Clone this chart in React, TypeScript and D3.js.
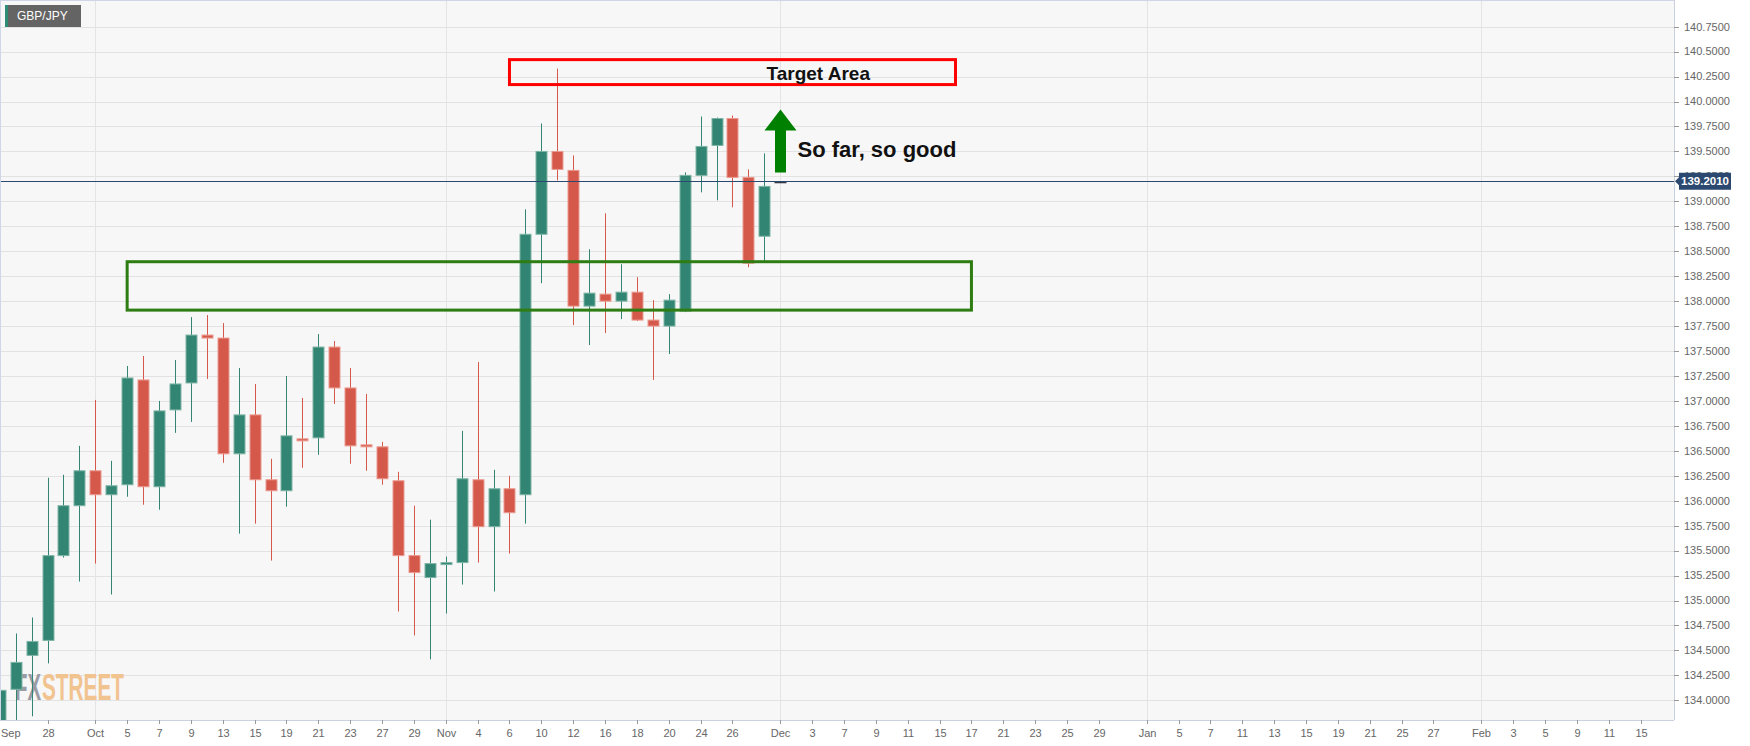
import React from "react";
import * as d3 from "d3";

const WIDTH = 1750;
const HEIGHT = 746;
const PLOT_RIGHT = 1674;
const PLOT_BOTTOM = 720;
const FONT = "'Liberation Sans', Arial, sans-serif";

// ---- daily GBP/JPY candles ----
const dates = [
  "2020-09-23", "2020-09-24", "2020-09-25", "2020-09-28", "2020-09-29", "2020-09-30",
  "2020-10-01", "2020-10-02", "2020-10-05", "2020-10-06", "2020-10-07", "2020-10-08",
  "2020-10-09", "2020-10-12", "2020-10-13", "2020-10-14", "2020-10-15", "2020-10-16",
  "2020-10-19", "2020-10-20", "2020-10-21", "2020-10-22", "2020-10-23", "2020-10-26",
  "2020-10-27", "2020-10-28", "2020-10-29", "2020-10-30", "2020-11-02", "2020-11-03",
  "2020-11-04", "2020-11-05", "2020-11-06", "2020-11-09", "2020-11-10", "2020-11-11",
  "2020-11-12", "2020-11-13", "2020-11-16", "2020-11-17", "2020-11-18", "2020-11-19",
  "2020-11-20", "2020-11-23", "2020-11-24", "2020-11-25", "2020-11-26", "2020-11-27",
  "2020-11-30",
];
const opens = [
  133.7, 134.11, 134.45, 134.6, 135.45, 135.95,
  136.3, 136.06, 136.16, 137.21, 136.14, 136.91,
  137.18, 137.66, 137.63, 136.47, 136.86, 136.21,
  136.1, 136.62, 136.63, 137.54, 137.13, 136.56,
  136.54, 136.2, 135.45, 135.23, 135.36, 135.38,
  136.21, 135.74, 136.12, 136.06, 138.67, 139.5,
  139.31, 137.95, 138.07, 138.0, 138.09, 137.81,
  137.75, 137.9, 139.26, 139.56, 139.83, 139.24,
  138.65,
];
const highs = [
  134.62, 134.67, 134.83, 136.23, 136.26, 136.55,
  137.01, 136.4, 137.35, 137.45, 137.0, 137.41,
  137.84, 137.86, 137.78, 137.33, 137.17, 136.42,
  137.25, 137.03, 137.67, 137.6, 137.33, 137.07,
  136.59, 136.29, 135.95, 135.81, 135.44, 136.7,
  137.39, 136.31, 136.25, 138.92, 139.78, 140.33,
  139.46, 138.52, 138.88, 138.37, 138.24, 138.01,
  138.07, 139.29, 139.85, 139.84, 139.86, 139.32,
  139.48,
];
const lows = [
  133.55, 133.79, 133.84, 134.37, 135.43, 135.19,
  135.37, 135.06, 136.04, 135.96, 135.91, 136.68,
  136.79, 137.22, 136.38, 135.67, 135.77, 135.4,
  135.94, 136.33, 136.46, 136.97, 136.37, 136.3,
  136.16, 134.89, 134.65, 134.41, 134.87, 135.16,
  135.38, 135.09, 135.47, 135.77, 138.18, 139.21,
  137.76, 137.56, 137.68, 137.82, 137.8, 137.21,
  137.47, 137.89, 139.09, 139.01, 138.94, 138.34,
  138.39,
];
const closes = [
  134.1, 134.38, 134.59, 135.45, 135.95, 136.3,
  136.06, 136.15, 137.23, 136.14, 136.9, 137.17,
  137.66, 137.63, 136.47, 136.86, 136.21, 136.1,
  136.65, 136.6, 137.54, 137.13, 136.55, 136.54,
  136.22, 135.45, 135.28, 135.37, 135.38, 136.22,
  135.74, 136.12, 135.88, 138.67, 139.5, 139.32,
  137.95, 138.08, 138.0, 138.09, 137.81, 137.75,
  138.01, 139.26, 139.55, 139.83, 139.24, 138.38,
  139.15,
];

const currentDate = "2020-12-01";
const currentPrice = 139.201;

// ---- axes ----
const yTicks = d3.range(134, 140.751, 0.25);
const xTickDates = [
  "2020-09-28", "2020-10-01", "2020-10-05", "2020-10-07", "2020-10-09", "2020-10-13",
  "2020-10-15", "2020-10-19", "2020-10-21", "2020-10-23", "2020-10-27", "2020-10-29",
  "2020-11-02", "2020-11-04", "2020-11-06", "2020-11-10", "2020-11-12", "2020-11-16",
  "2020-11-18", "2020-11-20", "2020-11-24", "2020-11-26", "2020-12-01", "2020-12-03",
  "2020-12-07", "2020-12-09", "2020-12-11", "2020-12-15", "2020-12-17", "2020-12-21",
  "2020-12-23", "2020-12-25", "2020-12-29", "2021-01-01", "2021-01-05", "2021-01-07",
  "2021-01-11", "2021-01-13", "2021-01-15", "2021-01-19", "2021-01-21", "2021-01-25",
  "2021-01-27", "2021-02-01", "2021-02-03", "2021-02-05", "2021-02-09", "2021-02-11",
  "2021-02-15",
];
const monthStarts = ["2020-10-01", "2020-11-02", "2020-12-01", "2021-01-01", "2021-02-01"];
const monthNames = ["Oct", "Nov", "Dec", "Jan", "Feb"];
const firstMonthLabel = "Sep";

// ---- annotations ----
const zoneStart = ["2020-10-05", "2020-11-06"];
const zoneEnd = ["2020-12-17", "2020-12-16"];
const zoneLow = [137.91, 140.17];
const zoneHigh = [138.395, 140.42];
const zoneColor = ["#2e7d12", "#ff0000"];
const arrowFrom = 139.29;
const arrowTo = 139.92;

// ---- trading calendar (weekdays) ----
const fmt = d3.utcFormat("%Y-%m-%d");
const calendar = d3.utcDay
  .range(new Date(Date.UTC(2020, 8, 14)), new Date(Date.UTC(2021, 1, 20)))
  .filter((d) => d.getUTCDay() !== 0 && d.getUTCDay() !== 6)
  .map(fmt);
const idx = (s: string) => calendar.indexOf(s);

const x = d3.scaleLinear().domain([idx("2020-09-28"), idx("2021-02-15")]).range([47.5, 1640.5]);
const y = d3.scaleLinear().domain([134, 140.75]).range([700.3, 26.7]);
const xd = (s: string) => x(idx(s));

const GREEN = "#338573";
const RED = "#d5594a";
const GREEN_EDGE = "#7fb5a6";
const RED_EDGE = "#eb9a90";

export default function App() {
  const candles = dates.map((d, i) => ({
    d,
    o: opens[i],
    h: highs[i],
    l: lows[i],
    c: closes[i],
  }));
  const bodyW = 11;
  const priceY = y(currentPrice);
  const arrowX = Math.round(xd(currentDate)) + 0.5;
  const headBase = y(arrowTo) + 21;

  return (
    <div style={{ position: "absolute", left: 0, top: 0 }}>
      <svg width={WIDTH} height={HEIGHT} style={{ display: "block", background: "#ffffff", fontFamily: FONT }}>
        <defs>
          <clipPath id="plot">
            <rect x={0} y={0} width={PLOT_RIGHT} height={PLOT_BOTTOM} />
          </clipPath>
        </defs>
        <rect x={0} y={0} width={PLOT_RIGHT} height={PLOT_BOTTOM} fill="#f7f7f7" />
        {/* horizontal grid */}
        {yTicks.map((t) => (
          <line key={"g" + t} x1={0} x2={PLOT_RIGHT} y1={Math.round(y(t)) + 0.5} y2={Math.round(y(t)) + 0.5} stroke="#e2e2e2" strokeWidth={1} />
        ))}
        {/* vertical grid at month starts */}
        {monthStarts.map((m) => (
          <line key={"v" + m} x1={Math.round(xd(m)) + 0.5} x2={Math.round(xd(m)) + 0.5} y1={0} y2={PLOT_BOTTOM} stroke="#e4e4e4" strokeWidth={1} />
        ))}
        {/* watermark */}
        <text x={15} y={700} fontSize={36} fontWeight="bold" fill="#9b9ca3" fontFamily="'Liberation Sans Narrow', 'Liberation Sans', Arial, sans-serif" textLength={26} lengthAdjust="spacingAndGlyphs">
          FX
        </text>
        <text x={42} y={700} fontSize={36} fontWeight="bold" fill="#f1c38f" fontFamily="'Liberation Sans Narrow', 'Liberation Sans', Arial, sans-serif" textLength={82} lengthAdjust="spacingAndGlyphs">
          STREET
        </text>
        {/* candles */}
        <g clipPath="url(#plot)">
          {candles.map((k) => {
            const cx = Math.round(xd(k.d));
            const up = k.c >= k.o;
            const col = up ? GREEN : RED;
            const edge = up ? GREEN_EDGE : RED_EDGE;
            const top = y(Math.max(k.o, k.c));
            const bot = y(Math.min(k.o, k.c));
            const h = Math.max(bot - top, 2);
            return (
              <g key={k.d}>
                <line x1={cx + 0.5} x2={cx + 0.5} y1={y(k.h)} y2={y(k.l)} stroke={col} strokeWidth={1} />
                <rect x={cx + 0.5 - bodyW / 2} y={top} width={bodyW} height={h} fill={col} stroke={edge} strokeWidth={1} />
              </g>
            );
          })}
          <line x1={arrowX - 6} x2={arrowX + 6} y1={priceY + 1} y2={priceY + 1} stroke="#333a44" strokeWidth={2} />
        </g>
        {/* zones */}
        {zoneStart.map((s, i) => (
          <rect
            key={"z" + i}
            x={xd(s)}
            y={y(zoneHigh[i])}
            width={xd(zoneEnd[i]) - xd(s)}
            height={y(zoneLow[i]) - y(zoneHigh[i])}
            fill="none"
            stroke={zoneColor[i]}
            strokeWidth={3}
          />
        ))}
        <text x={arrowX - 14} y={80} fontSize={19} fontWeight="bold" fill="#111">
          Target Area
        </text>
        {/* arrow */}
        <polygon
          points={[
            [arrowX - 5.5, y(arrowFrom)],
            [arrowX - 5.5, headBase],
            [arrowX - 16, headBase],
            [arrowX, y(arrowTo)],
            [arrowX + 16, headBase],
            [arrowX + 5.5, headBase],
            [arrowX + 5.5, y(arrowFrom)],
          ]
            .map((p) => p.join(","))
            .join(" ")}
          fill="#008000"
        />
        <text x={arrowX + 17} y={157} fontSize={22} fontWeight="bold" fill="#111">
          So far, so good
        </text>
        {/* current price line */}
        <line x1={0} x2={PLOT_RIGHT} y1={Math.round(priceY) + 0.5} y2={Math.round(priceY) + 0.5} stroke="#2b4870" strokeWidth={1} />
        {/* borders */}
        <line x1={0.5} x2={0.5} y1={0} y2={PLOT_BOTTOM} stroke="#cfd6e6" strokeWidth={1} />
        <line x1={0} x2={PLOT_RIGHT} y1={0.5} y2={0.5} stroke="#cfd6e6" strokeWidth={1} />
        <line x1={PLOT_RIGHT + 0.5} x2={PLOT_RIGHT + 0.5} y1={0} y2={PLOT_BOTTOM} stroke="#c9d0de" strokeWidth={1} />
        <line x1={0} x2={PLOT_RIGHT} y1={PLOT_BOTTOM + 0.5} y2={PLOT_BOTTOM + 0.5} stroke="#c9d0de" strokeWidth={1} />
        {/* y axis */}
        {yTicks.map((t) => (
          <g key={"yt" + t}>
            <line x1={PLOT_RIGHT} x2={PLOT_RIGHT + 5} y1={Math.round(y(t)) + 0.5} y2={Math.round(y(t)) + 0.5} stroke="#999" />
            <text x={PLOT_RIGHT + 10} y={y(t)} dy="0.35em" fontSize={11} fill="#666">
              {t.toFixed(4)}
            </text>
          </g>
        ))}
        {/* price tag */}
        <g>
          <polygon
            points={[
              [PLOT_RIGHT + 1, priceY],
              [PLOT_RIGHT + 5, priceY - 4],
              [PLOT_RIGHT + 5, priceY - 8.5],
              [PLOT_RIGHT + 57, priceY - 8.5],
              [PLOT_RIGHT + 57, priceY + 8.5],
              [PLOT_RIGHT + 5, priceY + 8.5],
              [PLOT_RIGHT + 5, priceY + 4],
            ]
              .map((p) => p.join(","))
              .join(" ")}
            fill="#2b4870"
          />
          <text x={PLOT_RIGHT + 31} y={priceY} dy="0.36em" textAnchor="middle" fontSize={11.5} fontWeight="bold" fill="#fff">
            {currentPrice.toFixed(4)}
          </text>
        </g>
        {/* x axis */}
        {xTickDates.map((d) => {
          const xx = Math.round(xd(d)) + 0.5;
          const mi = monthStarts.indexOf(d);
          const label = mi >= 0 ? monthNames[mi] : String(+d.slice(8));
          return (
            <g key={"xt" + d}>
              <line x1={xx} x2={xx} y1={PLOT_BOTTOM} y2={PLOT_BOTTOM + 4} stroke="#999" />
              <text x={xx} y={737} textAnchor="middle" fontSize={11} fill="#666">
                {label}
              </text>
            </g>
          );
        })}
        <text x={1} y={737} fontSize={11} fill="#666">
          {firstMonthLabel}
        </text>
        {/* symbol badge */}
        <rect x={5} y={5} width={76} height={22} fill="#646464" />
        <rect x={5} y={5} width={3} height={22} fill="#2e8b74" />
        <text x={17} y={16} dy="0.36em" fontSize={12} fill="#fff">
          GBP/JPY
        </text>
      </svg>
    </div>
  );
}
